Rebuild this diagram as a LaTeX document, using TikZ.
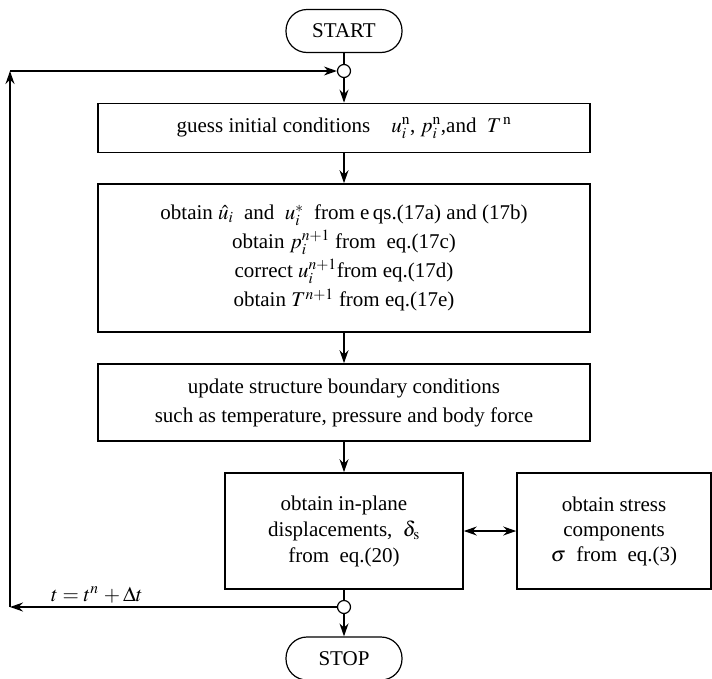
\documentclass[tikz,border=0pt]{standalone}
\usepackage{mathptmx}
\usepackage{fontspec}
\setmainfont{Liberation Serif}
\usetikzlibrary{arrows.meta}
\tikzset{
  procbox/.style={draw, line width=1.6pt, align=center, inner sep=0pt},
  termbox/.style={draw, line width=1.2pt, rounded corners=21pt, minimum width=116pt, minimum height=43pt},
  joint/.style={draw, circle, line width=1.2pt, minimum size=13pt, inner sep=0pt, fill=white},
  link/.style={line width=1.4pt},
  flow/.style={line width=1.4pt, -{Stealth[length=13pt,width=9pt]}},
}

\begin{document}
\begin{tikzpicture}[x=1pt,y=-1pt, font=\fontsize{21}{29}\selectfont]
  \useasboundingbox (0,0) rectangle (712,678);
  \node[termbox] (start) at (344,31) {START};
  \node[joint] (jtop) at (344,71) {};
  \node[procbox, minimum width=492pt, minimum height=49pt] (guess) at (344,128)
    {guess initial conditions\quad $u_i^{\mathrm{n}}$, $p_i^{\mathrm{n}}$,and \ $T^{\,\mathrm{n}}$};
  \node[procbox, minimum width=492pt, minimum height=148pt] (predict) at (344,258)
    {obtain $\hat{u}_i$ \ and \ $u_i^{*}$ \ from e\,qs.(17a) and (17b)\\
     obtain $p_i^{n+1}$ from \ eq.(17c)\\
     correct $u_i^{n+1}$from eq.(17d)\\
     obtain $T^{n+1}$ from eq.(17e)};
  \node[procbox, minimum width=492pt, minimum height=77pt] (update) at (344,402.5)
    {update structure boundary conditions\\
     such as temperature, pressure and body force};
  \node[procbox, minimum width=238pt, minimum height=116pt, font=\fontsize{21}{26}\selectfont] (disp) at (344,531)
    {obtain in-plane\\ displacements, \ $\delta_{\mathrm{s}}$\\ from \ eq.(20)};
  \node[procbox, minimum width=194pt, minimum height=116pt, font=\fontsize{21}{25}\selectfont] (stress) at (614,531)
    {obtain stress\\ components\\ $\sigma$ \ from \ eq.(3)};
  \node[joint] (jbot) at (344,607) {};
  \node[termbox] (stop) at (344,658.5) {STOP};
  \node (tstep) at (97,595) {$t = t^{n} \,+ \Delta t$};
  \coordinate (lbot) at (10,607);
  \coordinate (ltop) at (10,71);

  \draw[link] (start) -- (jtop);
  \draw[flow] (jtop) -- (guess);
  \draw[flow] (guess) -- (predict);
  \draw[flow] (predict) -- (update);
  \draw[flow] (update) -- (disp);
  \draw[link, {Stealth[length=13pt,width=9pt]}-{Stealth[length=13pt,width=9pt]}] (disp) -- (stress);
  \draw[link] (disp) -- (jbot);
  \draw[flow] (jbot) -- (stop);
  % time step loop
  \draw[flow] (jbot) -- (lbot);
  \draw[flow] (lbot) -- (ltop);
  \draw[flow] (ltop) -- (jtop);
\end{tikzpicture}
\end{document}
